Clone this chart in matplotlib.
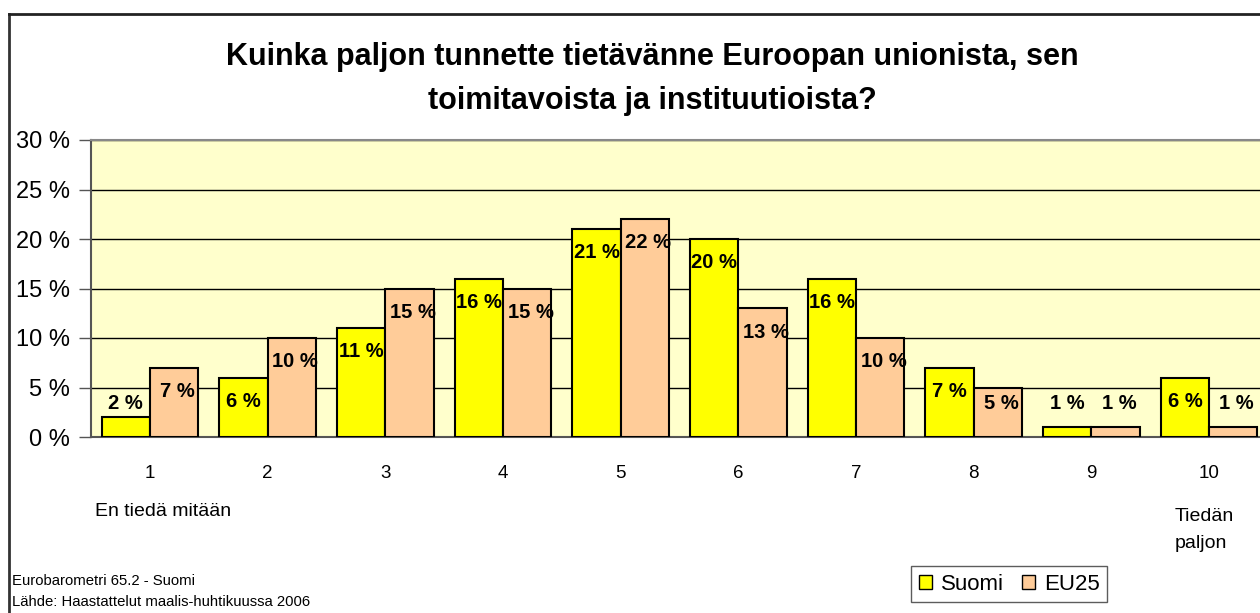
import matplotlib.pyplot as plt
from matplotlib.lines import Line2D
from matplotlib.patches import Patch
import numpy as np

plt.rcParams['font.family'] = ['Liberation Sans', 'DejaVu Sans']

categories = ['1', '2', '3', '4', '5', '6', '7', '8', '9', '10']
suomi = [2, 6, 11, 16, 21, 20, 16, 7, 1, 6]
eu25 = [7, 10, 15, 15, 22, 13, 10, 5, 1, 1]
yticks = [0, 5, 10, 15, 20, 25, 30]

title = "Kuinka paljon tunnette tietävänne Euroopan unionista, sen\ntoimitavoista ja instituutioista?"

fig = plt.figure(figsize=(12.6, 6.13), dpi=100)
ax = fig.add_axes([91 / 1260, 1 - 437 / 613, 1177 / 1260, 297 / 613])
ax.set_facecolor('#FFFFCC')

x = np.arange(1, len(categories) + 1)
w = 0.41
ax.bar(x - w / 2, suomi, w, color='#FFFF00', edgecolor='black', linewidth=1.5, zorder=3, label='Suomi')
ax.bar(x + w / 2, eu25, w, color='#FFCC99', edgecolor='black', linewidth=1.5, zorder=3, label='EU25')

for xi, v in zip(x - w / 2, suomi):
    ax.text(xi, max(v - 2.4, 3.4), f'{v} %', ha='center', va='center',
            fontsize=14.5, fontweight='bold', zorder=4)
for xi, v in zip(x + w / 2, eu25):
    ax.text(xi + 0.03, max(v - 2.4, 3.4), f'{v} %', ha='center', va='center',
            fontsize=14.5, fontweight='bold', zorder=4)

ax.set_xlim(0.5, 10.5)
ax.set_ylim(0, 30)
ax.set_yticks(yticks)
ax.set_yticklabels([f'{t} %' for t in yticks], fontsize=17)
ax.set_xticks(x)
ax.set_xticklabels(categories, fontsize=13.5)
ax.tick_params(axis='x', length=0, pad=20)
ax.tick_params(axis='y', length=9, width=1, color='#555555', pad=6)
ax.yaxis.grid(True, color='black', linewidth=1, zorder=1)
ax.set_axisbelow(True)
for s in ['left', 'bottom']:
    ax.spines[s].set_color('#555555')
    ax.spines[s].set_linewidth(1.5)
ax.spines['top'].set_color('#888888')
ax.spines['top'].set_linewidth(1.5)
ax.spines['right'].set_visible(False)

fig.text(652 / 1260, 1 - 79 / 613, title, ha='center', va='center', fontsize=22,
         fontweight='bold', linespacing=1.6)

fig.text(95 / 1260, 1 - 511 / 613, 'En tiedä mitään', ha='left', va='center', fontsize=14)
fig.text(1175 / 1260, 1 - 530 / 613, 'Tiedän\npaljon', ha='left', va='center', fontsize=14,
         linespacing=1.75)
fig.text(12 / 1260, 1 - 581 / 613, 'Eurobarometri 65.2 - Suomi', ha='left', va='center', fontsize=10.7)
fig.text(12 / 1260, 1 - 602 / 613, 'Lähde: Haastattelut maalis-huhtikuussa 2006', ha='left',
         va='center', fontsize=10.7)

# chart border
fig.add_artist(Line2D([8.5 / 1260, 8.5 / 1260], [0, 1 - 14 / 613], color='#333333', linewidth=2))
fig.add_artist(Line2D([8.5 / 1260, 1], [1 - 14 / 613, 1 - 14 / 613], color='#222222', linewidth=2))

handles = [Patch(facecolor='#FFFF00', edgecolor='black'), Patch(facecolor='#FFCC99', edgecolor='black')]
fig.legend(handles, ['Suomi', 'EU25'], loc='center', bbox_to_anchor=(1009 / 1260, 1 - 584 / 613),
           ncol=2, fontsize=16, frameon=True, fancybox=False, edgecolor='#333333',
           handlelength=0.6, handleheight=0.6, handletextpad=0.4, columnspacing=0.8,
           borderpad=0.35)

plt.savefig('out.png', dpi=100)
